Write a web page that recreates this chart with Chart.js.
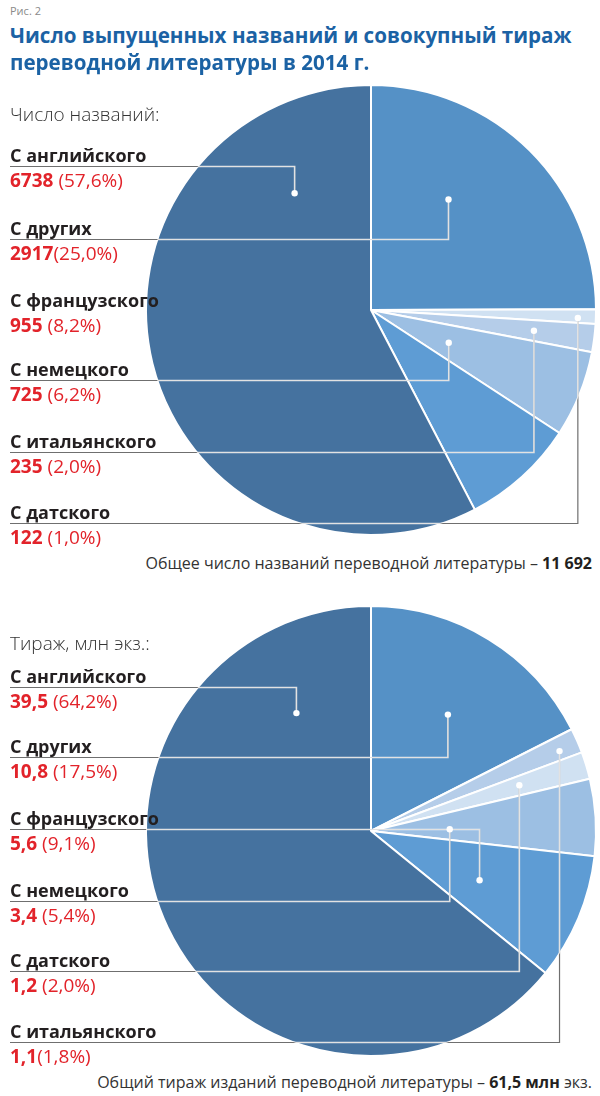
<!DOCTYPE html>
<html>
<head>
<meta charset="utf-8">
<title>Переводная литература 2014</title>
<style>
    body {
        margin: 0;
        width: 600px;
        height: 1096px;
        position: relative;
        overflow: hidden;
        background: #fff;
        font-family: "Open Sans", "Noto Sans", sans-serif;
        color: #231f20;
    }
    canvas { position: absolute; left: 0; }
    .txt {
        position: absolute;
        white-space: nowrap;
        line-height: 1;
        transform: translateY(-50%);
        z-index: 2;
    }
    .fig { left: 10px; font-size: 11px; color: #8a8a8a; }
    .title { left: 10px; font-size: 20.6px; font-weight: 700; color: #1b62a4; }
    .sub { left: 10px; font-size: 19px; font-weight: 300; color: #333; }
    .lab { left: 10px; font-size: 18px; font-weight: 700; }
    .num { left: 10px; font-size: 19px; color: #e2232a; }
    .num b { font-weight: 700; }
    .total { right: 8px; font-size: 16px; color: #333; }
    .total b { font-weight: 700; color: #231f20; }
</style>
</head>
<body>
    <div class="txt fig" style="top:10px">Рис. 2</div>
    <div class="txt title" style="top:35px">Число выпущенных названий и совокупный тираж</div>
    <div class="txt title" style="top:62px">переводной литературы в 2014 г.</div>

    <div class="txt sub" style="top:114px">Число названий:</div>
    <div class="txt total" style="top:563px">Общее число названий переводной литературы – <b>11 692</b></div>

    <div class="txt sub" style="top:643px">Тираж, млн экз.:</div>
    <div class="txt total" style="top:1082px">Общий тираж изданий переводной литературы – <b>61,5 млн</b> экз.</div>

    <canvas id="titlesPie" width="600" height="470" style="top:75px"></canvas>
    <canvas id="runPie" width="600" height="470" style="top:596px"></canvas>

    <script src="https://cdn.jsdelivr.net/npm/chart.js"></script>
    <script>
        // languages (source of translation)
        const langs = ['С английского', 'С других', 'С французского', 'С немецкого', 'С итальянского', 'С датского'];

        // number of titles
        const titleCounts = [6738, 2917, 955, 725, 235, 122];
        const titlePct = [' (57,6%)', '(25,0%)', ' (8,2%)', ' (6,2%)', ' (2,0%)', ' (1,0%)'];
        const titleSliceOrder = [1, 5, 4, 3, 2, 0];   // clockwise from 12 o'clock
        const titleListOrder = [0, 1, 2, 3, 4, 5];

        // print run, mln copies
        const runValues = [39.5, 10.8, 5.6, 3.4, 1.1, 1.2];
        const runPct = [' (64,2%)', ' (17,5%)', ' (9,1%)', ' (5,4%)', '(1,8%)', ' (2,0%)'];
        const runSliceOrder = [1, 4, 5, 3, 2, 0];
        const runListOrder = [0, 1, 2, 3, 5, 4];

        const sliceColors = ['#45729f', '#5591c6', '#5e9cd4', '#9cbfe3', '#b5cde9', '#d0e1f2'];

        // label rows (page y of the underline) and where each leader dot sits in its slice
        const panels = [
            {
                canvas: 'titlesPie', top: 75,
                values: titleCounts, pct: titlePct,
                sliceOrder: titleSliceOrder, listOrder: titleListOrder,
                rows: [166, 239, 311, 380, 452, 523],
                leaders: { 0: [0.84, 0.62], 1: [0.39, 0.60], 3: [0.54, 0.375], 4: [0.51, 0.73], 5: [0.63, 0.92] }
            },
            {
                canvas: 'runPie', top: 596,
                values: runValues, pct: runPct,
                sliceOrder: runSliceOrder, listOrder: runListOrder,
                rows: [687, 757, 829, 901, 971, 1042],
                leaders: { 0: [0.86, 0.62], 1: [0.53, 0.62], 2: [0.55, 0.53], 3: [0.61, 0.35], 4: [0.61, 0.91], 5: [0.47, 0.69] }
            }
        ];

        function fmt(v) {
            return String(v).replace('.', ',');
        }

        function addText(cls, top, html) {
            const d = document.createElement('div');
            d.className = 'txt ' + cls;
            d.style.top = top + 'px';
            d.innerHTML = html;
            document.body.appendChild(d);
        }

        function leaderPlugin(panel) {
            return {
                id: 'leaders',
                afterDatasetsDraw(chart) {
                    const ctx = chart.ctx;
                    const arcs = chart.getDatasetMeta(0).data;
                    Object.keys(panel.leaders).forEach(key => {
                        const li = Number(key);
                        const [t, rf] = panel.leaders[key];
                        const arc = arcs[panel.sliceOrder.indexOf(li)];
                        const p = arc.getProps(['x', 'y', 'startAngle', 'endAngle', 'outerRadius'], true);
                        const a = p.startAngle + t * (p.endAngle - p.startAngle);
                        const px = p.x + rf * p.outerRadius * Math.cos(a);
                        const py = p.y + rf * p.outerRadius * Math.sin(a);
                        const rowY = panel.rows[panel.listOrder.indexOf(li)] - panel.top + 0.5;

                        const path = () => {
                            ctx.beginPath();
                            ctx.moveTo(10, rowY);
                            ctx.lineTo(px, rowY);
                            ctx.lineTo(px, py);
                        };
                        ctx.save();
                        ctx.lineWidth = 1.2;
                        ctx.strokeStyle = '#6f6f6f';
                        path();
                        ctx.stroke();
                        ctx.beginPath();
                        ctx.arc(p.x, p.y, p.outerRadius, 0, Math.PI * 2);
                        ctx.clip();
                        ctx.lineWidth = 1.6;
                        ctx.strokeStyle = 'rgba(255,255,255,0.8)';
                        path();
                        ctx.stroke();
                        ctx.restore();

                        ctx.beginPath();
                        ctx.fillStyle = '#fff';
                        ctx.arc(px, py, 3.2, 0, Math.PI * 2);
                        ctx.fill();
                    });
                }
            };
        }

        panels.forEach(panel => {
            panel.listOrder.forEach((li, k) => {
                const row = panel.rows[k];
                addText('lab', row - 11.5, langs[li]);
                addText('num', row + 13.5, '<b>' + fmt(panel.values[li]) + '</b>' + panel.pct[li]);
            });

            new Chart(document.getElementById(panel.canvas), {
                type: 'pie',
                data: {
                    labels: panel.sliceOrder.map(i => langs[i]),
                    datasets: [{
                        data: panel.sliceOrder.map(i => panel.values[i]),
                        backgroundColor: panel.sliceOrder.map(i => sliceColors[i]),
                        borderColor: '#ffffff',
                        borderWidth: 2
                    }]
                },
                options: {
                    responsive: false,
                    animation: false,
                    layout: { padding: { left: 145, right: 3, top: 9, bottom: 9 } },
                    plugins: {
                        legend: { display: false },
                        tooltip: { enabled: false }
                    }
                },
                plugins: [leaderPlugin(panel)]
            });
        });
    </script>
</body>
</html>
